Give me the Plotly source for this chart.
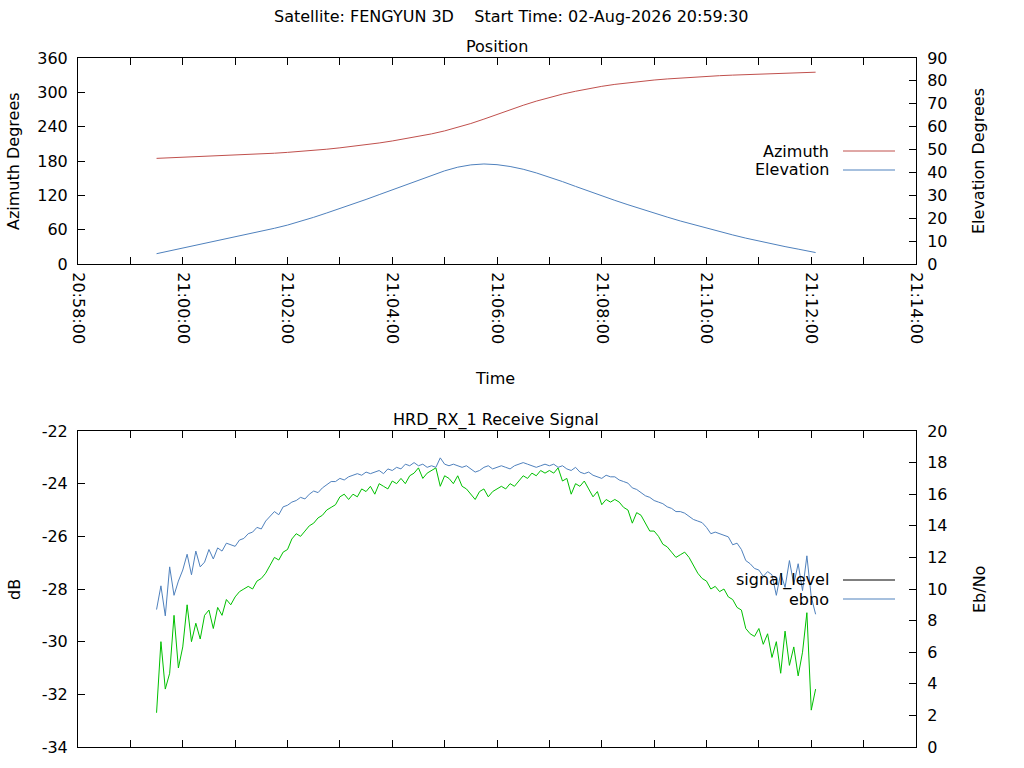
import pandas as pd
import plotly.graph_objects as go

# --- data -------------------------------------------------------------
satellite = "FENGYUN 3D"
start_time = "02-Aug-2026 20:59:30"

# position, one sample every 15 s (last one at 21:12:05)
pos_time = list(pd.date_range("2026-08-02 20:59:30", "2026-08-02 21:12:00", freq="15s")) + [pd.Timestamp("2026-08-02 21:12:05")]
azimuth = [184.6, 185.5, 186.4, 187.2, 188.1, 189.0, 190.0, 191.1, 192.2, 193.6,
           195.1, 196.7, 198.5, 200.6, 203.0, 205.5, 208.3, 211.5, 215.0, 218.7,
           222.8, 227.4, 232.6, 238.6, 245.5, 253.2, 261.4, 269.6, 277.4, 284.6,
           291.1, 296.9, 301.9, 306.4, 310.5, 313.9, 316.8, 319.3, 321.5, 323.4,
           325.1, 326.6, 328.0, 329.1, 330.1, 331.0, 331.9, 332.7, 333.5, 334.3,
           335.0, 335.2]
elevation = [4.5, 5.7, 6.9, 8.1, 9.3, 10.5, 11.7, 13.0, 14.3, 15.6,
             17.0, 18.6, 20.4, 22.3, 24.2, 26.2, 28.2, 30.3, 32.4, 34.5,
             36.6, 38.7, 40.7, 42.3, 43.3, 43.7, 43.4, 42.6, 41.4, 39.8,
             38.0, 36.0, 33.9, 31.8, 29.7, 27.8, 25.9, 24.0, 22.2, 20.5,
             18.8, 17.2, 15.6, 14.1, 12.7, 11.3, 10.0, 8.8, 7.6, 6.5,
             5.4, 5.0]

# receive signal, one sample every 5 s
sig_time = pd.date_range("2026-08-02 20:59:30", periods=152, freq="5s")
signal_level = [
    -32.7, -30.0, -31.8, -31.2, -29.0, -31.0, -30.2, -28.6, -30.0, -29.3,
    -29.9, -29.0, -28.8, -29.5, -28.7, -29.0, -28.4, -28.6, -28.3, -28.1,
    -28.0, -27.9, -28.0, -27.7, -27.6, -27.4, -27.1, -26.8, -26.9, -26.6,
    -26.5, -26.1, -25.9, -26.0, -25.8, -25.6, -25.5, -25.3, -25.2, -25.0,
    -24.9, -24.8, -24.5, -24.4, -24.6, -24.4, -24.5, -24.2, -24.3, -24.1,
    -24.4, -24.0, -24.1, -24.2, -23.9, -24.0, -23.8, -24.0, -23.7, -23.6,
    -23.4, -23.8, -23.6, -23.5, -23.4, -24.1, -23.7, -23.8, -24.0, -23.7,
    -24.1, -24.2, -24.4, -24.6, -24.3, -24.2, -24.5, -24.3, -24.2, -24.1,
    -24.2, -24.0, -24.1, -23.9, -23.7, -23.8, -23.6, -23.7, -23.5, -23.6,
    -23.5, -23.6, -23.4, -23.9, -23.8, -24.4, -24.0, -24.1, -23.9, -24.2,
    -24.5, -24.3, -24.8, -24.6, -24.7, -24.6, -24.7, -24.9, -25.0, -25.5,
    -25.1, -25.2, -25.5, -25.8, -25.8, -26.0, -26.3, -26.4, -26.6, -26.8,
    -26.7, -26.6, -26.8, -27.1, -27.4, -27.6, -27.7, -28.0, -27.9, -28.1,
    -28.0, -28.3, -28.4, -28.7, -28.8, -29.5, -29.7, -29.8, -29.5, -30.1,
    -29.7, -30.6, -30.0, -31.2, -29.6, -30.9, -30.2, -31.3, -30.4, -28.9,
    -32.6, -31.8]
ebno = [
    8.7, 10.2, 8.3, 11.4, 9.6, 10.5, 11.2, 12.2, 10.9, 12.4,
    11.4, 11.7, 12.5, 11.9, 12.6, 12.4, 12.9, 12.8, 12.7, 13.1,
    13.2, 13.5, 13.6, 13.9, 13.8, 14.3, 14.6, 14.9, 14.7, 15.2,
    15.3, 15.5, 15.6, 15.8, 15.7, 16.0, 16.2, 16.1, 16.4, 16.6,
    16.8, 16.8, 17.0, 16.9, 17.1, 17.2, 17.3, 17.2, 17.4, 17.3,
    17.4, 17.5, 17.3, 17.6, 17.5, 17.7, 17.6, 17.9, 17.8, 18.0,
    17.8, 17.9, 17.7, 17.8, 17.7, 18.3, 17.9, 17.8, 17.9, 17.8,
    17.7, 17.8, 17.6, 17.4, 17.5, 17.7, 17.8, 17.6, 17.7, 17.8,
    17.7, 17.6, 17.8, 17.9, 18.0, 17.9, 17.8, 17.7, 17.8, 17.9,
    17.8, 17.9, 17.7, 17.8, 17.6, 17.5, 17.7, 17.4, 17.3, 17.4,
    17.2, 17.1, 17.0, 17.2, 17.1, 17.1, 16.9, 16.8, 16.7, 16.4,
    16.3, 16.1, 15.9, 15.8, 15.6, 15.5, 15.4, 15.2, 15.1, 14.9,
    14.9, 14.8, 14.6, 14.4, 14.3, 14.2, 13.9, 13.5, 13.6, 13.5,
    13.4, 13.3, 12.8, 12.9, 12.5, 11.8, 11.6, 11.3, 11.2, 10.8,
    11.1, 10.9, 9.6, 11.0, 10.1, 11.8, 10.3, 11.6, 9.9, 12.1,
    9.5, 8.4]

# time axis ticks: every minute, labelled every two
tick_times = list(pd.date_range("2026-08-02 20:58:00", "2026-08-02 21:14:00", freq="1min"))
tick_text = [t.strftime("%H:%M:%S") if t.minute % 2 == 0 else "" for t in tick_times]
db_ticks = list(range(-34, -21, 2))

RED = "#c0504d"
BLUE = "#4f81bd"
GREEN = "#00c000"
FONT = dict(family="DejaVu Sans", size=16, color="black")

W, H = 1024, 768


def px(x):
    return x / W


def py(y):
    return 1 - y / H


fig = go.Figure()
fig.add_trace(go.Scatter(x=pos_time, y=azimuth, mode="lines", line=dict(color=RED, width=1),
                         xaxis="x", yaxis="y", showlegend=False))
fig.add_trace(go.Scatter(x=pos_time, y=elevation, mode="lines", line=dict(color=BLUE, width=1),
                         xaxis="x", yaxis="y2", showlegend=False))
fig.add_trace(go.Scatter(x=sig_time, y=signal_level, mode="lines", line=dict(color=GREEN, width=1),
                         xaxis="x2", yaxis="y3", showlegend=False))
fig.add_trace(go.Scatter(x=sig_time, y=ebno, mode="lines", line=dict(color=BLUE, width=1),
                         xaxis="x2", yaxis="y4", showlegend=False))

xdom = [px(78), px(916)]
top_dom = [py(264), py(58)]
bot_dom = [py(747), py(431)]
xrange = ["2026-08-02 20:58:00", "2026-08-02 21:14:00"]

ax_common = dict(showline=True, linecolor="black", linewidth=1, ticks="inside", ticklen=7,
                 tickcolor="black", showgrid=False, zeroline=False, automargin=False,
                 tickfont=FONT)

fig.update_layout(
    width=W, height=H, margin=dict(l=0, r=0, t=0, b=0),
    paper_bgcolor="white", plot_bgcolor="white", font=FONT,
    xaxis=dict(domain=xdom, anchor="y", range=xrange, tickvals=tick_times, ticktext=tick_text,
               tickangle=90, mirror="ticks", ticklabelstandoff=4, **ax_common),
    yaxis=dict(domain=top_dom, anchor="x", range=[0, 360], tickvals=list(range(0, 361, 60)),
               ticklabelstandoff=6, **ax_common),
    yaxis2=dict(domain=top_dom, anchor="x", overlaying="y", side="right", range=[0, 90],
                tickvals=list(range(0, 91, 10)), ticklabelstandoff=7, **ax_common),
    xaxis2=dict(domain=xdom, anchor="y3", range=xrange, tickvals=tick_times, showticklabels=False,
                mirror="ticks", **ax_common),
    yaxis3=dict(domain=bot_dom, anchor="x2", range=[-34, -22], tickvals=db_ticks,
                ticktext=[str(v) for v in db_ticks], ticklabelstandoff=6, **ax_common),
    yaxis4=dict(domain=bot_dom, anchor="x2", overlaying="y3", side="right", range=[0, 20],
                tickvals=list(range(0, 21, 2)), ticklabelstandoff=7, **ax_common),
)


def label(text, x, y, angle=0, xanchor="center"):
    fig.add_annotation(text=text, x=px(x), y=py(y), xref="paper", yref="paper", showarrow=False,
                       textangle=angle, xanchor=xanchor, yanchor="middle", font=FONT)


label(f"Satellite: {satellite}&nbsp;&nbsp;&nbsp;&nbsp;Start Time: {start_time}", 511, 17)
label("Position", 497, 46)
label("Time", 495, 379)
label("HRD_RX_1 Receive Signal", 496, 420)
label("Azimuth Degrees", 14, 161, angle=-90)
label("Elevation Degrees", 979, 161, angle=-90)
label("dB", 14, 590, angle=-90)
label("Eb/No", 979, 590, angle=-90)

# legend entries (text left of sample line, like the original)
legend = [("Azimuth", RED, 151), ("Elevation", BLUE, 170),
          ("signal_level", "black", 580), ("ebno", BLUE, 599)]
for name, color, yy in legend:
    label(name, 831, yy, xanchor="right")
    fig.add_shape(type="line", xref="paper", yref="paper", x0=px(843), x1=px(895),
                  y0=py(yy), y1=py(yy), line=dict(color=color, width=1))

# drop the default body margin so the figure sits at the page corner
fig.write_html("out.html", config={"displayModeBar": False},
               post_script="document.body.style.margin='0';")
